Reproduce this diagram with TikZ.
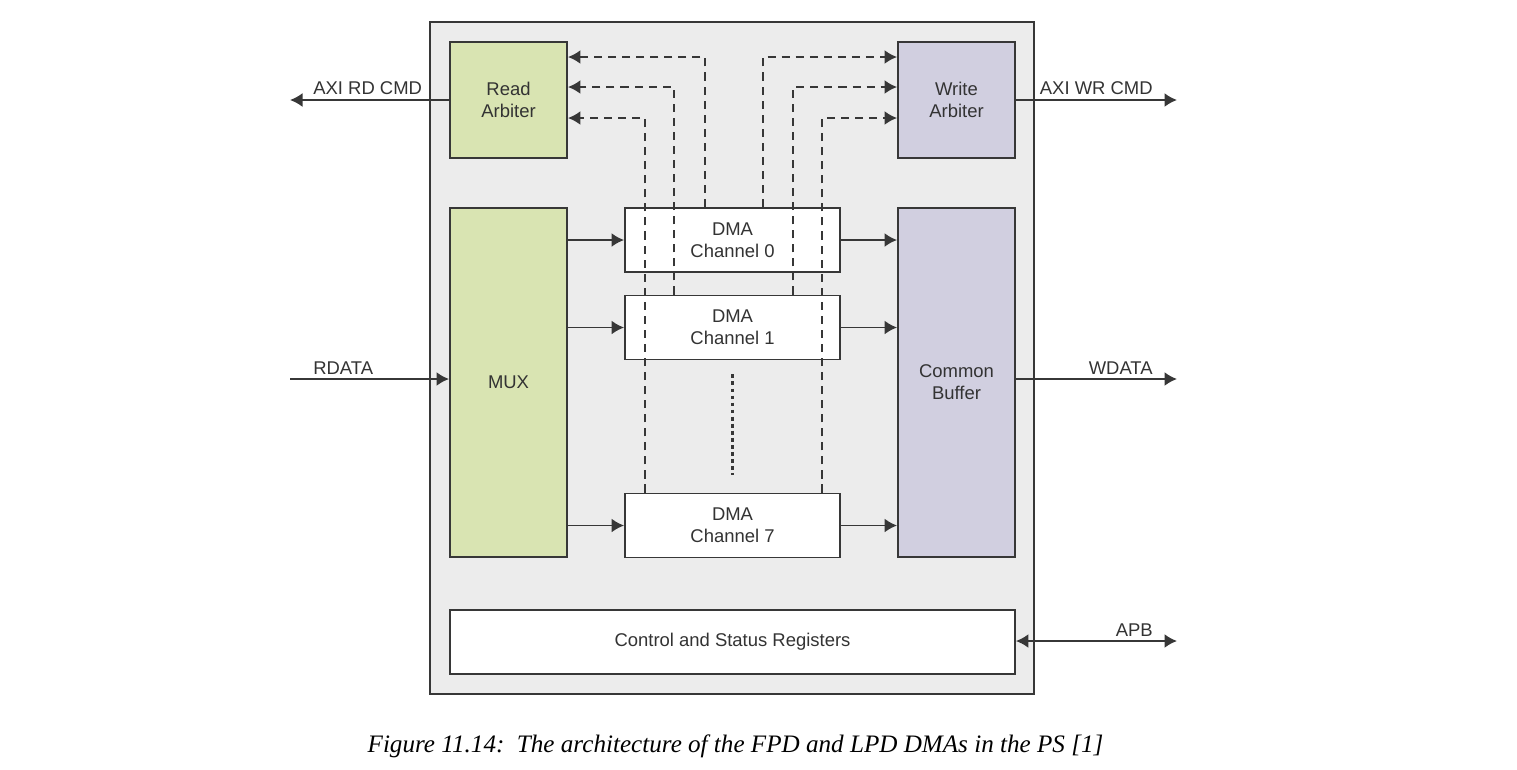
\documentclass[tikz,border=0pt]{standalone}
\usepackage{fontspec}
\setmainfont{Liberation Sans}
\newfontfamily\capfont{Liberation Serif}
\usetikzlibrary{arrows.meta, positioning, calc}

\definecolor{panelgray}{RGB}{236,236,236}
\definecolor{edgegray}{RGB}{55,55,55}
\definecolor{rdgreen}{RGB}{217,228,178}
\definecolor{wrlilac}{RGB}{209,207,224}

\tikzset{
  blk/.style={draw=edgegray, line width=1.1pt, rectangle, fill=white, align=center,
    font=\fontsize{10.5}{12.6}\selectfont, text=black!80},
  sig/.style={->, line width=1.1pt, draw=edgegray},
  ctl/.style={->, line width=1.1pt, draw=edgegray, dash pattern=on 4.6pt off 3.4pt},
  ellip/.style={line width=1.3pt, draw=edgegray, dash pattern=on 2.2pt off 1.8pt},
  lbl/.style={inner sep=0pt, font=\fontsize{10.5}{12.6}\selectfont, text=black!80},
}

\begin{document}
\begin{tikzpicture}[x=0.02cm, y=-0.02cm, >={Latex[length=0.25cm, width=0.28cm]}]
    \useasboundingbox (0,0) rectangle (1517,769);

    % DMA unit
    \node[blk, fill=panelgray, minimum width=12.08cm, minimum height=13.44cm] (dma) at (732,358) {};

    % Arbiters
    \node[blk, fill=rdgreen, minimum width=2.34cm, minimum height=2.32cm] (rdarb) at (508.5,100) {Read\\Arbiter};
    \node[blk, fill=wrlilac, minimum width=2.34cm, minimum height=2.32cm] (wrarb) at (956.5,100) {Write\\Arbiter};

    % MUX and buffer
    \node[blk, fill=rdgreen, minimum width=2.34cm, minimum height=6.98cm] (mux) at (508.5,382.5) {MUX};
    \node[blk, fill=wrlilac, minimum width=2.34cm, minimum height=6.98cm] (buf) at (956.5,382.5) {Common\\Buffer};

    % Channels
    \node[blk, minimum width=4.3cm, minimum height=1.28cm] (ch0) at (732.5,240) {DMA\\Channel 0};
    \node[blk, minimum width=4.3cm, minimum height=1.28cm] (ch1) at (732.5,327.5) {DMA\\Channel 1};
    \node[blk, minimum width=4.3cm, minimum height=1.28cm] (ch7) at (732.5,525.5) {DMA\\Channel 7};
    \draw[ellip] ([yshift=-0.28cm]ch1.south) -- ([yshift=0.36cm]ch7.north);

    % Registers
    \node[blk, minimum width=11.3cm, minimum height=1.28cm] (csr) at (732.5,642) {Control and Status Registers};

    % Data paths
    \foreach \ch in {ch0, ch1, ch7} {
        \draw[sig] (mux.east |- \ch.west) -- (\ch.west);
        \draw[sig] (\ch.east) -- (\ch.east -| buf.west);
    }

    % Command requests
    \foreach \xx/\yy/\ch in {705/57/ch0, 674/87/ch1, 645/118/ch7}
        \draw[ctl] (\ch.north -| \xx,0) |- (rdarb.east |- 0,\yy);
    \foreach \xx/\yy/\ch in {763/57/ch0, 793/87/ch1, 822/118/ch7}
        \draw[ctl] (\ch.north -| \xx,0) |- (wrarb.west |- 0,\yy);

    % External ports
    \coordinate (rdcmd) at (290,100);
    \coordinate (wrcmd) at (1177,100);
    \coordinate (rdin) at (290,379);
    \coordinate (wrout) at (1177,379);
    \coordinate (apb) at (1177,641);
    \draw[sig] (rdarb.west) -- (rdcmd);
    \draw[sig] (wrarb.east) -- (wrcmd);
    \draw[sig] (rdin) -- (rdin -| mux.west);
    \draw[sig] (wrout -| buf.east) -- (wrout);
    \draw[sig, <->] (apb -| csr.east) -- (apb);

    \node[lbl, anchor=base west] (rdcmdlbl) at (313,94) {AXI RD CMD};
    \node[lbl, anchor=base east] (wrcmdlbl) at (1153,94) {AXI WR CMD};
    \node[lbl, anchor=base west] (rdinlbl) at (313,374) {RDATA};
    \node[lbl, anchor=base east] (wroutlbl) at (1153,374) {WDATA};
    \node[lbl, anchor=base east] (apblbl) at (1153,636) {APB};

    % Caption
    \node[inner sep=0pt, anchor=base, font=\capfont\itshape\fontsize{14.3}{17}\selectfont] (caption) at (735.5,752)
        {Figure 11.14:\ \ The architecture of the FPD and LPD DMAs in the PS [1]};
\end{tikzpicture}
\end{document}
